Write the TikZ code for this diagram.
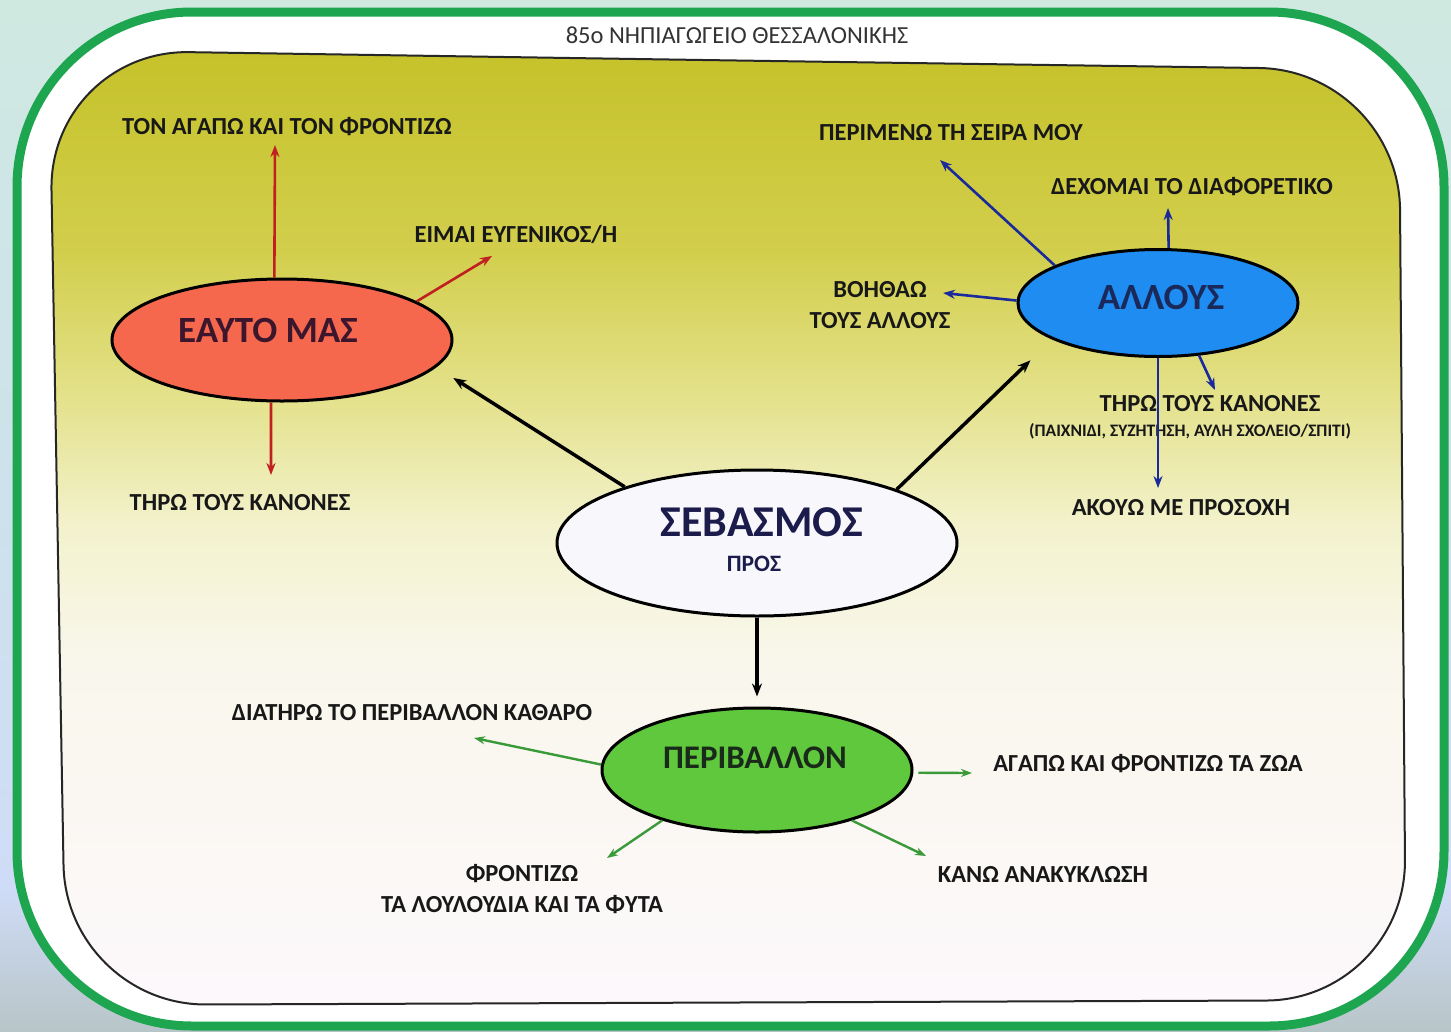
\documentclass[tikz,border=0pt]{standalone}
\usepackage{fontspec}
\setmainfont{Carlito}
\usetikzlibrary{shapes.geometric,arrows.meta}

\definecolor{bgtop}{RGB}{207,233,225}
\definecolor{bgmid}{RGB}{205,226,236}
\definecolor{bgblue}{RGB}{207,220,247}
\definecolor{bgbot}{RGB}{184,197,200}
\definecolor{framegreen}{RGB}{30,165,80}
\definecolor{slbot}{RGB}{252,248,252}
\definecolor{slA}{RGB}{249,247,236}
\definecolor{slB}{RGB}{243,242,205}
\definecolor{slC}{RGB}{228,226,140}
\definecolor{slD}{RGB}{210,206,76}
\definecolor{slE}{RGB}{197,194,42}
\definecolor{eautofill}{RGB}{246,104,78}
\definecolor{eautotext}{RGB}{60,22,45}
\definecolor{allousfill}{RGB}{30,140,240}
\definecolor{allousstext}{RGB}{26,40,90}
\definecolor{sebfill}{RGB}{248,248,252}
\definecolor{sebtext}{RGB}{28,28,76}
\definecolor{perfill}{RGB}{95,200,60}
\definecolor{pertext}{RGB}{26,42,26}
\definecolor{labeltext}{RGB}{24,24,24}
\definecolor{arrred}{RGB}{192,32,32}
\definecolor{arrblue}{RGB}{26,42,154}
\definecolor{arrgreen}{RGB}{58,154,58}

\pgfdeclareverticalshading{bgshade}{100bp}{color(0bp)=(bgbot); color(25bp)=(bgbot); color(32bp)=(bgblue); color(51bp)=(bgmid); color(75bp)=(bgtop); color(100bp)=(bgtop)}
\pgfdeclareverticalshading{slideshade}{100bp}{color(0bp)=(slbot); color(25bp)=(slbot); color(43bp)=(slA); color(50bp)=(slB); color(56.7bp)=(slC); color(64.5bp)=(slD); color(75bp)=(slE); color(100bp)=(slE)}

\newcommand\lblfont{\fontsize{24.5}{31}\selectfont\bfseries}
\newcommand\smallfont{\fontsize{17.5}{20}\selectfont\bfseries}

\begin{document}
\begin{tikzpicture}[x=1pt,y=-1pt,
  bubble/.style={ellipse, draw=black, line width=3pt, inner sep=0pt},
  lbl/.style={font=\lblfont, text=labeltext, inner sep=0pt, align=center},
  blk/.style={draw=black, line width=3.5pt, -{Stealth[length=13pt,width=10pt]}},
  redarr/.style={draw=arrred, line width=2.6pt, -{Stealth[length=12pt,width=9pt]}},
  bluearr/.style={draw=arrblue, line width=2.6pt, -{Stealth[length=12pt,width=9pt]}},
  greenarr/.style={draw=arrgreen, line width=2.4pt, -{Stealth[length=11pt,width=8pt]}}]
\useasboundingbox (0,0) rectangle (1451,1031);
\shade[shading=bgshade] (0,0) rectangle (1451,1031);
\draw[line width=9pt, draw=framegreen, fill=white, rounded corners=175pt] (17,12) rectangle (1444,1026);
\shade[shading=slideshade, rounded corners=140pt] (700,60) -- (1399,70) -- (1406,1000) -- (66,1005) -- (49,50) -- cycle;
\draw[line width=2pt, draw=black!85, rounded corners=140pt] (700,60) -- (1399,70) -- (1406,1000) -- (66,1005) -- (49,50) -- cycle;

\node[font=\fontsize{24.5}{28}\selectfont, text=black!80, inner sep=0pt] (title) at (737,35) {85ο ΝΗΠΙΑΓΩΓΕΙΟ ΘΕΣΣΑΛΟΝΙΚΗΣ};

% bubbles
\node[bubble, fill=eautofill, minimum width=340pt, minimum height=122pt] (eauto) at (282,340) {};
\node[bubble, fill=allousfill, minimum width=280pt, minimum height=107pt] (allous) at (1158,303) {};
\node[bubble, fill=sebfill, minimum width=400pt, minimum height=146pt] (seb) at (757,543) {};
\node[bubble, fill=perfill, minimum width=310pt, minimum height=124pt] (per) at (757,770) {};

\node[font=\fontsize{37}{44}\selectfont\bfseries, text=eautotext, inner sep=0pt] (eautot) at (268,330) {ΕΑΥΤΟ ΜΑΣ};
\node[font=\fontsize{37}{44}\selectfont\bfseries, text=allousstext, inner sep=0pt] (allouset) at (1161,297) {ΑΛΛΟΥΣ};
\node[font=\fontsize{44}{50}\selectfont\bfseries, text=sebtext, inner sep=0pt] (sebt) at (762,522) {ΣΕΒΑΣΜΟΣ};
\node[font=\fontsize{23.5}{28}\selectfont\bfseries, text=sebtext, inner sep=0pt] (sebsub) at (754,564) {ΠΡΟΣ};
\node[font=\fontsize{33}{40}\selectfont\bfseries, text=pertext, inner sep=0pt] (pert) at (755,758) {ΠΕΡΙΒΑΛΛΟΝ};

% labels
\node[lbl] (t1) at (287,127) {ΤΟΝ ΑΓΑΠΩ ΚΑΙ ΤΟΝ ΦΡΟΝΤΙΖΩ};
\node[lbl] (t2) at (516,234) {ΕΙΜΑΙ ΕΥΓΕΝΙΚΟΣ/Η};
\node[lbl] (t3) at (240,503) {ΤΗΡΩ ΤΟΥΣ ΚΑΝΟΝΕΣ};
\node[lbl] (t4) at (951,133) {ΠΕΡΙΜΕΝΩ ΤΗ ΣΕΙΡΑ ΜΟΥ};
\node[lbl] (t5) at (1192,187) {ΔΕΧΟΜΑΙ ΤΟ ΔΙΑΦΟΡΕΤΙΚΟ};
\node[lbl] (t6) at (880,305.5) {ΒΟΗΘΑΩ\\ΤΟΥΣ ΑΛΛΟΥΣ};
\node[lbl] (t7) at (1210,404) {ΤΗΡΩ ΤΟΥΣ ΚΑΝΟΝΕΣ};
\node[lbl, font=\smallfont] (t7b) at (1190,431) {(ΠΑΙΧΝΙΔΙ, ΣΥΖΗΤΗΣΗ, ΑΥΛΗ ΣΧΟΛΕΙΟ/ΣΠΙΤΙ)};
\node[lbl] (t8) at (1181,508) {ΑΚΟΥΩ ΜΕ ΠΡΟΣΟΧΗ};
\node[lbl] (t9) at (412,713) {ΔΙΑΤΗΡΩ ΤΟ ΠΕΡΙΒΑΛΛΟΝ ΚΑΘΑΡΟ};
\node[lbl] (t10) at (1148,764) {ΑΓΑΠΩ ΚΑΙ ΦΡΟΝΤΙΖΩ ΤΑ ΖΩΑ};
\node[lbl] (t11) at (522,889) {ΦΡΟΝΤΙΖΩ\\ΤΑ ΛΟΥΛΟΥΔΙΑ ΚΑΙ ΤΑ ΦΥΤΑ};
\node[lbl] (t12) at (1043,874) {ΚΑΝΩ ΑΝΑΚΥΚΛΩΣΗ};

% free arrow ends
\coordinate (e1) at (275,145);
\coordinate (e2) at (492,256);
\coordinate (e3) at (271,475);
\coordinate (e4) at (940,160);
\coordinate (e5) at (1168,208);
\coordinate (e6) at (943,293);
\coordinate (e7) at (1215,390);
\coordinate (e8) at (1158,488);
\coordinate (e9) at (474,738);
\coordinate (e10) at (972,773);
\coordinate (e11) at (607,858);
\coordinate (e12) at (926,856);

% black connectors
\draw[blk, shorten >=20pt] (seb.157) -- (eauto.350);
\draw[blk, shorten >=30pt] (seb.21) -- (allous.199);
\draw[blk, shorten >=10pt] (seb.south) -- (per.north);

% red
\draw[redarr] (eauto.97) -- (e1);
\draw[redarr] (eauto.16) -- (e2);
\draw[redarr] (eauto.260) -- (e3);

% blue
\draw[bluearr] (allous.160) -- (e4);
\draw[bluearr] (allous.79) -- (e5);
\draw[bluearr] (allous.179) -- (e6);
\draw[bluearr] (allous.308) -- (e7);
\draw[bluearr] (allous.270) -- (e8);

% green
\draw[greenarr, shorten <=5pt] (per.359) -- (e10);
\draw[greenarr] (per.178) -- (e9);
\draw[greenarr] (per.208) -- (e11);
\draw[greenarr] (per.332) -- (e12);
\end{tikzpicture}
\end{document}
